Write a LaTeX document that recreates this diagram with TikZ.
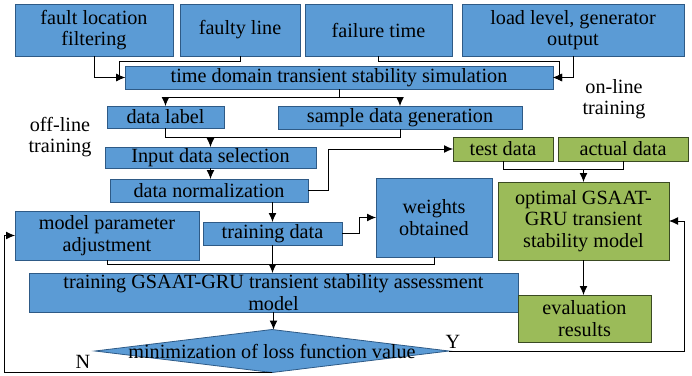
\documentclass[tikz,border=0pt]{standalone}
\usepackage{fontspec}
\setmainfont{Liberation Serif}
\usepackage{tikz}
\usetikzlibrary{arrows.meta}
\usetikzlibrary{calc}
\usetikzlibrary{shapes.geometric}
\definecolor{boxblue}{HTML}{5B9BD5}
\definecolor{edgeblue}{HTML}{2E5A86}
\definecolor{boxgreen}{HTML}{9BBB59}
\definecolor{edgegreen}{HTML}{3A4A22}

\begin{document}
\begin{tikzpicture}[x=1pt, y=-1pt, >={Latex[length=9pt,width=8pt]},
  font=\fontsize{20.2}{21.5}\selectfont,
  bluebox/.style={rectangle, draw=edgeblue, fill=boxblue, line width=0.8pt, inner sep=0pt, outer sep=0pt, align=center},
  greenbox/.style={rectangle, draw=edgegreen, fill=boxgreen, line width=0.8pt, inner sep=0pt, outer sep=0pt, align=center},
  conn/.style={line width=1pt, draw=black}]
\useasboundingbox (0,0) rectangle (692,375);
\node [bluebox, minimum width=158pt, minimum height=52pt] (flf) at (94,30) {fault location\\filtering};
\node [bluebox, minimum width=120pt, minimum height=52pt] (fl) at (240,30) {faulty line};
\node [bluebox, minimum width=147pt, minimum height=52pt] (ft) at (378.5,30) {failure time};
\node [bluebox, minimum width=222pt, minimum height=52pt] (llgo) at (573,30) {load level, generator\\output};
\node [bluebox, minimum width=428pt, minimum height=23pt] (tdts) at (339,77.5) {time domain transient stability simulation};
\node [bluebox, minimum width=117pt, minimum height=22pt] (dl) at (165.5,117) {data label};
\node [bluebox, minimum width=244pt, minimum height=23pt] (sdg) at (400,117.5) {sample data generation};
\node [bluebox, minimum width=211pt, minimum height=21pt] (ids) at (210.5,157.5) {Input data selection};
\node [bluebox, minimum width=198pt, minimum height=23pt] (dn) at (209,190.5) {data normalization};
\node [greenbox, minimum width=100pt, minimum height=24pt] (td) at (503,149) {test data};
\node [greenbox, minimum width=130pt, minimum height=24pt] (ad) at (623,149) {actual data};
\node [greenbox, minimum width=171pt, minimum height=78pt] (og) at (583.5,221) {optimal GSAAT-\\GRU transient\\stability model};
\node [bluebox, minimum width=116pt, minimum height=79pt] (wo) at (434,217.5) {weights\\obtained};
\node [bluebox, minimum width=139pt, minimum height=23pt] (trd) at (272.5,233.5) {training data};
\node [bluebox, minimum width=184pt, minimum height=49pt] (mpa) at (107,235.5) {model parameter\\adjustment};
\node [bluebox, minimum width=489pt, minimum height=39pt] (tg) at (273.5,292.5) {training GSAAT-GRU transient stability assessment\\model};
\node [greenbox, minimum width=133pt, minimum height=47pt] (er) at (584.5,318.5) {evaluation\\results};
\node [diamond, draw=edgeblue, fill=boxblue, line width=0.8pt, inner sep=0pt, outer sep=0pt, minimum width=354pt, minimum height=43pt] (lf) at (272,351) {};
\node (lft) at (lf.center) {minimization of loss function value};
\node [align=center] (offl) at (60,137) {off-line\\training};
\node [align=center] (onl) at (614,99) {on-line\\training};
\node (nlab) at (83,362) {N};
\node (ylab) at (453,342) {Y};
\coordinate (j1) at ($(tdts.south)+(0,8)$);
\coordinate (j2) at ($(ids.north)+(0,-10)$);
\coordinate (j3) at ($(og.north)+(0,-13)$);
\coordinate (j4) at ($(trd.south |- tg.north)+(0,-9)$);
\coordinate (nl) at (4,372.5);
\coordinate (yr) at (684,351);
\draw [conn, ->] (flf.south) |- (tdts.west);
\draw [conn, ->] (fl.south) -- ++(0,5) -| ($(tdts.west)+(-6,0)$) -- (tdts.west);
\draw [conn, ->] (llgo.south) |- (tdts.east);
\draw [conn, ->] (ft.south) -- ++(0,5) -| ($(tdts.east)+(6,0)$) -- (tdts.east);
\draw [conn] (tdts.south) -- (j1);
\draw [conn, ->] (j1) -| (dl.north);
\draw [conn, ->] (j1) -| (sdg.north);
\draw [conn] (dl.south) |- (j2);
\draw [conn] (sdg.south) |- (j2);
\draw [conn, ->] (j2) -- (ids.north);
\draw [conn, ->] (ids.south) -- (ids.south |- dn.north);
\draw [conn, ->] (dn.east) -- ++(20,0) |- (td.west);
\draw [conn] (td.south) |- (j3);
\draw [conn] (ad.south) |- (j3);
\draw [conn, ->] (j3) -- (og.north);
\draw [conn, ->] (trd.north |- dn.south) -- (trd.north);
\draw [conn, ->] (trd.east) -- ++(17,0) |- (wo.west);
\draw [conn] (wo.south) |- (j4);
\draw [conn] (mpa.south) |- (j4);
\draw [conn, ->] (trd.south) -- (trd.south |- tg.north);
\draw [conn, ->] (tg.south) -- (tg.south |- lf.north);
\draw [conn, ->] (og.south) -- (og.south |- er.north);
\draw [conn, ->] (lf.south) -- (nl) |- (mpa.west);
\draw [conn, ->] (lf.east) -- (yr) |- (og.east);
\end{tikzpicture}
\end{document}
